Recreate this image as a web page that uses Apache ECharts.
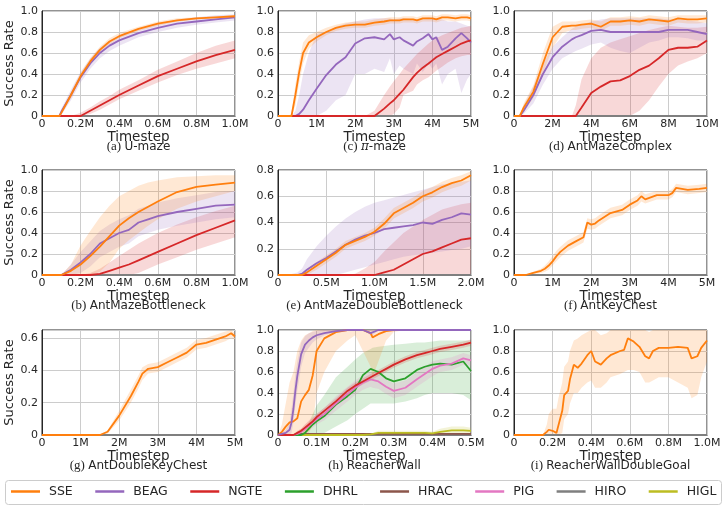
<!DOCTYPE html>
<html>
<head>
<meta charset="utf-8">
<script src="https://cdn.jsdelivr.net/npm/echarts@6/dist/echarts.min.js"></script>
<style>
html, body { margin: 0; padding: 0; background: #fff; }
#chart { width: 727px; height: 509px; }
</style>
</head>
<body>
<div id="chart"></div>
<script>
// methods & colours (legend order)
var methods = ['SSE', 'BEAG', 'NGTE', 'DHRL', 'HRAC', 'PIG', 'HIRO', 'HIGL'];
var methodColors = ['#ff7f0e', '#9467bd', '#d62728', '#2ca02c', '#8c564b', '#e377c2', '#7f7f7f', '#bcbd22'];

// tick labels
var yTicks10 = ['0', '0.2', '0.4', '0.6', '0.8', '1.0'];
var yTicks08 = ['0', '0.2', '0.4', '0.6', '0.8'];
var yTicks06 = ['0', '0.2', '0.4', '0.6'];
var ticks1M = ['0', '0.2M', '0.4M', '0.6M', '0.8M', '1.0M'];
var ticks5M = ['0', '1M', '2M', '3M', '4M', '5M'];
var ticks10M = ['0', '2M', '4M', '6M', '8M', '10M'];
var ticks2M = ['0', '0.5M', '1.0M', '1.5M', '2.0M'];
var ticks05M = ['0', '0.1M', '0.2M', '0.3M', '0.4M', '0.5M'];
var baselineY = [0, 0];

// (a) U-maze, timestep in M
var umazeX = [0, 0.05, 0.09, 0.1, 0.15, 0.2, 0.25, 0.3, 0.35, 0.4, 0.5, 0.6, 0.7, 0.8, 0.9, 1.0];
var umazeSSE = [0, 0, 0, 0.03, 0.2, 0.38, 0.52, 0.63, 0.71, 0.76, 0.83, 0.88, 0.91, 0.93, 0.94, 0.95];
var umazeSSELo = [0, 0, 0, 0.01, 0.17, 0.35, 0.49, 0.6, 0.68, 0.74, 0.81, 0.86, 0.9, 0.92, 0.93, 0.94];
var umazeSSEHi = [0, 0, 0, 0.05, 0.23, 0.41, 0.55, 0.66, 0.74, 0.79, 0.85, 0.9, 0.93, 0.94, 0.95, 0.96];
var umazeBEAG = [0, 0, 0, 0.04, 0.2, 0.37, 0.5, 0.6, 0.67, 0.72, 0.79, 0.84, 0.88, 0.9, 0.92, 0.94];
var umazeBEAGLo = [0, 0, 0, 0.01, 0.15, 0.32, 0.45, 0.55, 0.62, 0.67, 0.75, 0.8, 0.84, 0.87, 0.89, 0.91];
var umazeBEAGHi = [0, 0, 0, 0.07, 0.25, 0.42, 0.55, 0.65, 0.72, 0.77, 0.83, 0.88, 0.92, 0.94, 0.96, 0.97];
var umazeNGTE = [0, 0, 0, 0, 0, 0, 0.05, 0.1, 0.15, 0.2, 0.29, 0.38, 0.45, 0.52, 0.58, 0.63];
var umazeNGTELo = [0, 0, 0, 0, 0, 0, 0.02, 0.06, 0.11, 0.16, 0.24, 0.32, 0.39, 0.45, 0.5, 0.55];
var umazeNGTEHi = [0, 0, 0, 0, 0, 0.03, 0.08, 0.14, 0.19, 0.25, 0.34, 0.44, 0.52, 0.6, 0.67, 0.72];

// (c) pi-maze
var piX = [0, 0.25, 0.35, 0.45, 0.55, 0.65, 0.8, 1.0, 1.25, 1.5, 1.75, 2.0, 2.25, 2.5, 2.75, 2.9, 3.0, 3.15, 3.25, 3.5, 3.6, 3.75, 3.9, 4.0, 4.1, 4.25, 4.4, 4.6, 4.75, 4.9, 5.0];
var piSSE = [0, 0, 0, 0.2, 0.42, 0.6, 0.7, 0.75, 0.8, 0.84, 0.86, 0.87, 0.87, 0.89, 0.9, 0.91, 0.91, 0.91, 0.92, 0.92, 0.91, 0.93, 0.93, 0.93, 0.92, 0.94, 0.94, 0.93, 0.94, 0.94, 0.93];
var piSSELo = [0, 0, 0, 0.1, 0.32, 0.5, 0.64, 0.71, 0.77, 0.81, 0.83, 0.84, 0.84, 0.86, 0.87, 0.88, 0.88, 0.88, 0.89, 0.89, 0.88, 0.9, 0.9, 0.9, 0.89, 0.91, 0.91, 0.9, 0.91, 0.91, 0.9];
var piSSEHi = [0, 0, 0.02, 0.3, 0.52, 0.7, 0.77, 0.8, 0.84, 0.87, 0.89, 0.9, 0.9, 0.92, 0.93, 0.94, 0.94, 0.94, 0.95, 0.95, 0.94, 0.96, 0.96, 0.96, 0.95, 0.97, 0.97, 0.96, 0.97, 0.97, 0.96];
var piBEAG = [0, 0, 0, 0, 0.02, 0.06, 0.15, 0.26, 0.39, 0.49, 0.56, 0.69, 0.74, 0.75, 0.73, 0.78, 0.73, 0.75, 0.72, 0.67, 0.71, 0.74, 0.78, 0.73, 0.75, 0.63, 0.66, 0.74, 0.79, 0.74, 0.7];
var piBEAGLo = [0, 0, 0, 0, 0, 0, 0, 0, 0.05, 0.15, 0.2, 0.4, 0.4, 0.45, 0.42, 0.55, 0.4, 0.48, 0.45, 0.4, 0.5, 0.42, 0.5, 0.45, 0.5, 0.3, 0.4, 0.45, 0.22, 0.35, 0.4];
var piBEAGHi = [0, 0, 0, 0.05, 0.2, 0.4, 0.6, 0.78, 0.8, 0.85, 0.88, 0.9, 0.92, 0.93, 0.93, 0.93, 0.92, 0.93, 0.93, 0.92, 0.92, 0.93, 0.94, 0.93, 0.93, 0.92, 0.9, 0.9, 0.88, 0.86, 0.85];
var piNGTE = [0, 0, 0, 0, 0, 0, 0, 0, 0, 0, 0, 0, 0, 0, 0.07, 0.12, 0.15, 0.21, 0.25, 0.37, 0.41, 0.46, 0.5, 0.53, 0.56, 0.59, 0.62, 0.66, 0.69, 0.71, 0.72];
var piNGTELo = [0, 0, 0, 0, 0, 0, 0, 0, 0, 0, 0, 0, 0, 0, 0, 0, 0.02, 0.08, 0.2, 0.24, 0.3, 0.34, 0.37, 0.4, 0.43, 0.47, 0.51, 0.55, 0.57, 0.58, 0.58];
var piNGTEHi = [0, 0, 0, 0, 0, 0, 0, 0, 0, 0, 0, 0, 0, 0.05, 0.2, 0.28, 0.33, 0.4, 0.45, 0.55, 0.59, 0.64, 0.69, 0.72, 0.74, 0.77, 0.79, 0.82, 0.84, 0.85, 0.86];

// (d) AntMazeComplex
var cplxX = [0, 0.3, 0.5, 1, 1.5, 2, 2.5, 3, 3.2, 3.5, 4, 4.5, 5, 5.5, 6, 6.5, 7, 7.5, 8, 8.5, 9, 9.5, 10];
var cplxSSE = [0, 0, 0.08, 0.23, 0.5, 0.75, 0.85, 0.86, 0.86, 0.87, 0.88, 0.85, 0.9, 0.9, 0.91, 0.9, 0.92, 0.91, 0.9, 0.93, 0.92, 0.92, 0.93];
var cplxSSELo = [0, 0, 0.04, 0.17, 0.4, 0.65, 0.79, 0.82, 0.82, 0.83, 0.84, 0.81, 0.86, 0.86, 0.87, 0.86, 0.88, 0.87, 0.86, 0.89, 0.88, 0.88, 0.89];
var cplxSSEHi = [0, 0, 0.12, 0.29, 0.6, 0.85, 0.9, 0.9, 0.9, 0.91, 0.92, 0.9, 0.94, 0.94, 0.95, 0.94, 0.96, 0.95, 0.94, 0.96, 0.96, 0.96, 0.96];
var cplxBEAG = [0, 0, 0.05, 0.2, 0.4, 0.56, 0.66, 0.73, 0.75, 0.77, 0.81, 0.82, 0.8, 0.8, 0.8, 0.8, 0.8, 0.8, 0.82, 0.82, 0.82, 0.8, 0.78];
var cplxBEAGLo = [0, 0, 0.02, 0.12, 0.3, 0.45, 0.55, 0.6, 0.62, 0.64, 0.68, 0.7, 0.65, 0.62, 0.6, 0.65, 0.7, 0.72, 0.75, 0.75, 0.74, 0.72, 0.72];
var cplxBEAGHi = [0, 0, 0.1, 0.28, 0.5, 0.66, 0.75, 0.83, 0.85, 0.87, 0.9, 0.92, 0.93, 0.93, 0.93, 0.93, 0.93, 0.93, 0.92, 0.92, 0.91, 0.9, 0.88];
var cplxNGTE = [0, 0, 0, 0, 0, 0, 0, 0, 0, 0.08, 0.22, 0.28, 0.33, 0.34, 0.38, 0.44, 0.48, 0.55, 0.63, 0.65, 0.65, 0.66, 0.72];
var cplxNGTELo = [0, 0, 0, 0, 0, 0, 0, 0, 0, 0, 0, 0, 0, 0, 0, 0.05, 0.15, 0.28, 0.4, 0.48, 0.52, 0.55, 0.6];
var cplxNGTEHi = [0, 0, 0, 0, 0, 0, 0, 0, 0.1, 0.35, 0.55, 0.65, 0.7, 0.73, 0.76, 0.79, 0.82, 0.84, 0.86, 0.85, 0.84, 0.84, 0.85];

// (b) AntMazeBottleneck
var bnX = [0, 0.05, 0.1, 0.15, 0.2, 0.25, 0.3, 0.35, 0.4, 0.45, 0.5, 0.55, 0.6, 0.7, 0.8, 0.9, 1.0];
var bnSSE = [0, 0, 0, 0.04, 0.1, 0.18, 0.27, 0.37, 0.47, 0.54, 0.6, 0.65, 0.7, 0.79, 0.84, 0.86, 0.88];
var bnSSELo = [0, 0, 0, 0, 0, 0, 0.03, 0.12, 0.25, 0.33, 0.4, 0.47, 0.53, 0.63, 0.7, 0.75, 0.8];
var bnSSEHi = [0, 0, 0, 0.1, 0.28, 0.42, 0.55, 0.66, 0.75, 0.8, 0.85, 0.88, 0.9, 0.93, 0.94, 0.95, 0.95];
var bnBEAG = [0, 0, 0, 0.05, 0.12, 0.2, 0.3, 0.35, 0.4, 0.43, 0.5, 0.53, 0.56, 0.6, 0.63, 0.66, 0.67];
var bnBEAGLo = [0, 0, 0, 0, 0.02, 0.08, 0.17, 0.22, 0.27, 0.3, 0.37, 0.4, 0.43, 0.47, 0.5, 0.53, 0.55];
var bnBEAGHi = [0, 0, 0, 0.1, 0.22, 0.32, 0.42, 0.48, 0.53, 0.57, 0.63, 0.66, 0.69, 0.73, 0.76, 0.79, 0.8];
var bnNGTE = [0, 0, 0, 0, 0, 0, 0.01, 0.04, 0.07, 0.1, 0.14, 0.18, 0.22, 0.3, 0.38, 0.45, 0.52];
var bnNGTELo = [0, 0, 0, 0, 0, 0, 0, 0, 0, 0, 0.02, 0.06, 0.1, 0.17, 0.24, 0.3, 0.36];
var bnNGTEHi = [0, 0, 0, 0, 0, 0.02, 0.06, 0.12, 0.18, 0.24, 0.3, 0.35, 0.4, 0.48, 0.55, 0.61, 0.66];

// (e) AntMazeDoubleBottleneck
var dbX = [0, 0.1, 0.2, 0.25, 0.3, 0.4, 0.5, 0.6, 0.7, 0.8, 0.9, 1.0, 1.1, 1.2, 1.3, 1.4, 1.5, 1.6, 1.7, 1.8, 1.9, 2.0];
var dbSSE = [0, 0, 0, 0, 0.02, 0.07, 0.12, 0.17, 0.23, 0.26, 0.29, 0.33, 0.39, 0.47, 0.51, 0.55, 0.6, 0.63, 0.67, 0.7, 0.72, 0.76];
var dbSSELo = [0, 0, 0, 0, 0, 0.04, 0.09, 0.14, 0.2, 0.23, 0.26, 0.3, 0.35, 0.43, 0.47, 0.51, 0.56, 0.59, 0.63, 0.66, 0.68, 0.72];
var dbSSEHi = [0, 0, 0, 0.01, 0.05, 0.1, 0.15, 0.2, 0.26, 0.29, 0.32, 0.36, 0.43, 0.51, 0.55, 0.59, 0.64, 0.67, 0.71, 0.74, 0.76, 0.79];
var dbBEAG = [0, 0, 0, 0.01, 0.04, 0.09, 0.13, 0.18, 0.23, 0.27, 0.3, 0.32, 0.35, 0.36, 0.37, 0.38, 0.4, 0.39, 0.42, 0.44, 0.47, 0.46];
var dbBEAGLo = [0, 0, 0, 0, 0, 0, 0, 0, 0.02, 0.04, 0.06, 0.08, 0.1, 0.12, 0.14, 0.15, 0.16, 0.17, 0.18, 0.19, 0.2, 0.22];
var dbBEAGHi = [0, 0, 0.02, 0.05, 0.12, 0.22, 0.3, 0.37, 0.43, 0.48, 0.52, 0.55, 0.57, 0.59, 0.61, 0.63, 0.65, 0.67, 0.69, 0.7, 0.71, 0.72];
var dbNGTE = [0, 0, 0, 0, 0, 0, 0, 0, 0, 0, 0, 0, 0.02, 0.04, 0.08, 0.12, 0.16, 0.18, 0.21, 0.24, 0.27, 0.28];
var dbNGTEHi = [0, 0, 0, 0, 0, 0, 0, 0, 0, 0.01, 0.05, 0.1, 0.18, 0.25, 0.32, 0.37, 0.42, 0.46, 0.5, 0.52, 0.54, 0.55];

// (f) AntKeyChest
var kcX = [0, 0.3, 0.5, 0.7, 0.8, 0.9, 1.0, 1.1, 1.2, 1.4, 1.6, 1.8, 1.9, 2.0, 2.1, 2.2, 2.5, 2.8, 3.0, 3.2, 3.3, 3.4, 3.7, 4.0, 4.1, 4.2, 4.5, 4.8, 5.0];
var kcSSE = [0, 0, 0.02, 0.04, 0.06, 0.09, 0.13, 0.18, 0.22, 0.28, 0.32, 0.36, 0.5, 0.48, 0.49, 0.52, 0.59, 0.62, 0.67, 0.71, 0.75, 0.72, 0.76, 0.76, 0.78, 0.83, 0.81, 0.82, 0.83];
var kcSSELo = [0, 0, 0.01, 0.02, 0.03, 0.05, 0.09, 0.13, 0.17, 0.23, 0.27, 0.31, 0.44, 0.43, 0.44, 0.47, 0.54, 0.57, 0.62, 0.66, 0.7, 0.68, 0.72, 0.72, 0.74, 0.79, 0.77, 0.78, 0.79];
var kcSSEHi = [0, 0, 0.03, 0.06, 0.09, 0.13, 0.18, 0.23, 0.27, 0.33, 0.37, 0.41, 0.54, 0.53, 0.54, 0.57, 0.64, 0.67, 0.72, 0.76, 0.8, 0.77, 0.8, 0.8, 0.82, 0.87, 0.85, 0.86, 0.87];

// (g) AntDoubleKeyChest
var dkX = [0, 1.5, 1.7, 2.0, 2.3, 2.5, 2.6, 2.75, 3.0, 3.25, 3.5, 3.75, 4.0, 4.25, 4.5, 4.75, 4.9, 5.0];
var dkSSE = [0, 0, 0.02, 0.12, 0.24, 0.33, 0.38, 0.41, 0.42, 0.45, 0.48, 0.51, 0.56, 0.57, 0.59, 0.61, 0.63, 0.61];
var dkSSELo = [0, 0, 0.01, 0.09, 0.2, 0.29, 0.34, 0.38, 0.39, 0.42, 0.45, 0.48, 0.53, 0.54, 0.56, 0.58, 0.6, 0.59];
var dkSSEHi = [0, 0, 0.03, 0.15, 0.28, 0.37, 0.42, 0.44, 0.45, 0.48, 0.51, 0.54, 0.59, 0.6, 0.62, 0.64, 0.65, 0.63];

// (h) ReacherWall
var rwX = [0, 0.01, 0.02, 0.03, 0.035, 0.04, 0.045, 0.05, 0.06, 0.07, 0.08, 0.09, 0.1, 0.12, 0.15, 0.18, 0.2, 0.22, 0.24, 0.245, 0.26, 0.28, 0.3, 0.33, 0.36, 0.38, 0.4, 0.42, 0.45, 0.48, 0.5];
var rwSSE = [0, 0.03, 0.08, 0.12, 0.13, 0.13, 0.13, 0.16, 0.32, 0.38, 0.43, 0.57, 0.8, 0.92, 0.98, 1, 1, 1, 0.97, 0.93, 0.96, 0.99, 1, 1, 1, 1, 1, 1, 1, 1, 1];
var rwSSELo = [0, 0, 0, 0, 0, 0, 0, 0, 0, 0, 0.02, 0.1, 0.4, 0.6, 0.8, 0.9, 0.95, 0.8, 0.65, 0.55, 0.7, 0.9, 0.98, 1, 1, 1, 1, 1, 1, 1, 1];
var rwSSEHi = [0, 0.1, 0.3, 0.5, 0.55, 0.6, 0.7, 0.8, 0.9, 0.95, 0.97, 0.99, 1, 1, 1, 1, 1, 1, 1, 1, 1, 1, 1, 1, 1, 1, 1, 1, 1, 1, 1];
var rwBEAG = [0, 0.01, 0.02, 0.05, 0.12, 0.25, 0.42, 0.56, 0.77, 0.86, 0.9, 0.93, 0.95, 0.97, 0.99, 1, 1, 1, 0.97, 0.97, 1, 1, 1, 1, 1, 1, 1, 1, 1, 1, 1];
var rwBEAGLo = [0, 0, 0, 0, 0.02, 0.12, 0.28, 0.42, 0.65, 0.78, 0.83, 0.88, 0.91, 0.95, 0.98, 1, 1, 1, 0.95, 0.95, 1, 1, 1, 1, 1, 1, 1, 1, 1, 1, 1];
var rwBEAGHi = [0, 0.02, 0.05, 0.12, 0.25, 0.4, 0.58, 0.7, 0.88, 0.94, 0.97, 0.98, 0.99, 1, 1, 1, 1, 1, 1, 1, 1, 1, 1, 1, 1, 1, 1, 1, 1, 1, 1];
var rwNGTE = [0, 0, 0, 0, 0, 0, 0.01, 0.02, 0.04, 0.07, 0.1, 0.13, 0.17, 0.23, 0.32, 0.42, 0.47, 0.51, 0.55, 0.56, 0.59, 0.63, 0.67, 0.72, 0.76, 0.78, 0.8, 0.82, 0.84, 0.86, 0.88];
var rwNGTELo = [0, 0, 0, 0, 0, 0, 0, 0, 0.02, 0.04, 0.07, 0.1, 0.14, 0.2, 0.29, 0.39, 0.44, 0.48, 0.52, 0.53, 0.56, 0.6, 0.64, 0.69, 0.73, 0.75, 0.77, 0.79, 0.81, 0.83, 0.85];
var rwNGTEHi = [0, 0, 0, 0, 0, 0, 0.02, 0.04, 0.06, 0.1, 0.13, 0.16, 0.2, 0.26, 0.35, 0.45, 0.5, 0.54, 0.58, 0.59, 0.62, 0.66, 0.7, 0.75, 0.79, 0.81, 0.83, 0.85, 0.87, 0.89, 0.91];
var rwDHRL = [0, 0, 0, 0, 0, 0, 0, 0, 0, 0.02, 0.06, 0.1, 0.13, 0.18, 0.29, 0.37, 0.43, 0.57, 0.63, 0.62, 0.6, 0.54, 0.51, 0.54, 0.62, 0.65, 0.67, 0.68, 0.67, 0.7, 0.61];
var rwDHRLLo = [0, 0, 0, 0, 0, 0, 0, 0, 0, 0, 0, 0, 0, 0.02, 0.08, 0.14, 0.2, 0.25, 0.3, 0.3, 0.3, 0.3, 0.3, 0.32, 0.35, 0.38, 0.4, 0.4, 0.4, 0.38, 0.33];
var rwDHRLHi = [0, 0, 0, 0, 0, 0, 0, 0, 0.02, 0.06, 0.12, 0.2, 0.28, 0.38, 0.55, 0.65, 0.72, 0.78, 0.82, 0.83, 0.84, 0.85, 0.86, 0.87, 0.88, 0.88, 0.89, 0.9, 0.9, 0.9, 0.9];
var rwPIG = [0, 0, 0, 0, 0, 0, 0, 0.01, 0.03, 0.06, 0.09, 0.12, 0.15, 0.2, 0.3, 0.39, 0.45, 0.5, 0.53, 0.52, 0.51, 0.46, 0.42, 0.45, 0.53, 0.58, 0.63, 0.66, 0.68, 0.73, 0.71];
var rwPIGLo = [0, 0, 0, 0, 0, 0, 0, 0, 0, 0.02, 0.04, 0.07, 0.1, 0.14, 0.23, 0.32, 0.38, 0.43, 0.46, 0.45, 0.44, 0.39, 0.35, 0.38, 0.46, 0.51, 0.56, 0.6, 0.62, 0.67, 0.66];
var rwPIGHi = [0, 0, 0, 0, 0, 0, 0.01, 0.03, 0.06, 0.1, 0.14, 0.17, 0.2, 0.26, 0.37, 0.46, 0.52, 0.57, 0.6, 0.59, 0.58, 0.53, 0.49, 0.52, 0.6, 0.65, 0.7, 0.72, 0.74, 0.78, 0.76];
var rwHIGL = [0, 0, 0, 0, 0, 0, 0, 0, 0, 0, 0, 0, 0, 0, 0, 0, 0, 0, 0.005, 0.01, 0.02, 0.02, 0.02, 0.02, 0.02, 0.02, 0.015, 0.03, 0.045, 0.045, 0.04];
var rwHIGLHi = [0, 0, 0, 0, 0, 0, 0, 0, 0, 0, 0, 0, 0, 0, 0, 0, 0, 0, 0.01, 0.02, 0.04, 0.04, 0.04, 0.04, 0.04, 0.04, 0.03, 0.06, 0.08, 0.08, 0.07];
var rwHRAC = [0, 0, 0, 0, 0, 0, 0, 0.01, 0.01, 0.01, 0.01, 0.01, 0.01, 0.01, 0.01, 0.01, 0.01, 0.01, 0.01, 0.01, 0.01, 0.01, 0.01, 0.01, 0.01, 0.01, 0.01, 0.01, 0.01, 0.01, 0.01];

// (i) ReacherWallDoubleGoal
var rwdX = [0, 0.15, 0.17, 0.18, 0.2, 0.22, 0.23, 0.25, 0.26, 0.28, 0.29, 0.31, 0.33, 0.35, 0.38, 0.4, 0.42, 0.45, 0.48, 0.5, 0.55, 0.57, 0.59, 0.62, 0.65, 0.68, 0.7, 0.72, 0.75, 0.8, 0.85, 0.9, 0.92, 0.95, 0.97, 1.0];
var rwdSSE = [0, 0, 0.03, 0.05, 0.04, 0.02, 0.09, 0.23, 0.38, 0.42, 0.53, 0.67, 0.64, 0.68, 0.76, 0.8, 0.7, 0.67, 0.73, 0.76, 0.8, 0.81, 0.92, 0.89, 0.84, 0.75, 0.73, 0.8, 0.83, 0.83, 0.84, 0.83, 0.73, 0.75, 0.83, 0.9];
var rwdSSELo = [0, 0, 0, 0, 0, 0, 0, 0.02, 0.15, 0.2, 0.3, 0.4, 0.4, 0.45, 0.5, 0.52, 0.45, 0.45, 0.5, 0.55, 0.58, 0.6, 0.62, 0.62, 0.6, 0.5, 0.5, 0.52, 0.55, 0.55, 0.5, 0.45, 0.35, 0.38, 0.55, 0.7];
var rwdSSEHi = [0, 0, 0.1, 0.2, 0.25, 0.25, 0.35, 0.5, 0.65, 0.7, 0.8, 0.9, 0.92, 0.95, 0.98, 1, 1, 0.95, 0.97, 1, 1, 1, 1, 1, 1, 1, 0.98, 1, 1, 1, 1, 1, 1, 1, 1, 1];

// panels in reading order (row by row)
var panels = [
    {tag: '(a)', title: 'U-maze', x: umazeX, xTicks: ticks1M, yTicks: yTicks10, ymax: 1, lines: [
        {m: 'NGTE', y: umazeNGTE, lo: umazeNGTELo, hi: umazeNGTEHi},
        {m: 'BEAG', y: umazeBEAG, lo: umazeBEAGLo, hi: umazeBEAGHi},
        {m: 'SSE', y: umazeSSE, lo: umazeSSELo, hi: umazeSSEHi}]},
    {tag: '(c)', title: 'π', x: piX, xTicks: ticks5M, yTicks: yTicks10, ymax: 1, lines: [
        {m: 'BEAG', y: piBEAG, lo: piBEAGLo, hi: piBEAGHi},
        {m: 'NGTE', y: piNGTE, lo: piNGTELo, hi: piNGTEHi},
        {m: 'SSE', y: piSSE, lo: piSSELo, hi: piSSEHi}]},
    {tag: '(d)', title: 'AntMazeComplex', x: cplxX, xTicks: ticks10M, yTicks: yTicks10, ymax: 1, lines: [
        {m: 'NGTE', y: cplxNGTE, lo: cplxNGTELo, hi: cplxNGTEHi},
        {m: 'BEAG', y: cplxBEAG, lo: cplxBEAGLo, hi: cplxBEAGHi},
        {m: 'SSE', y: cplxSSE, lo: cplxSSELo, hi: cplxSSEHi}]},
    {tag: '(b)', title: 'AntMazeBottleneck', x: bnX, xTicks: ticks1M, yTicks: yTicks10, ymax: 1, lines: [
        {m: 'NGTE', y: bnNGTE, lo: bnNGTELo, hi: bnNGTEHi},
        {m: 'BEAG', y: bnBEAG, lo: bnBEAGLo, hi: bnBEAGHi},
        {m: 'SSE', y: bnSSE, lo: bnSSELo, hi: bnSSEHi}]},
    {tag: '(e)', title: 'AntMazeDoubleBottleneck', x: dbX, xTicks: ticks2M, yTicks: yTicks08, ymax: 0.8, lines: [
        {m: 'NGTE', y: dbNGTE, hi: dbNGTEHi},
        {m: 'BEAG', y: dbBEAG, lo: dbBEAGLo, hi: dbBEAGHi},
        {m: 'SSE', y: dbSSE, lo: dbSSELo, hi: dbSSEHi}]},
    {tag: '(f)', title: 'AntKeyChest', x: kcX, xTicks: ticks5M, yTicks: yTicks10, ymax: 1, lines: [
        {m: 'SSE', y: kcSSE, lo: kcSSELo, hi: kcSSEHi}]},
    {tag: '(g)', title: 'AntDoubleKeyChest', x: dkX, xTicks: ticks5M, yTicks: yTicks06, ymax: 0.65, lines: [
        {m: 'SSE', y: dkSSE, lo: dkSSELo, hi: dkSSEHi}]},
    {tag: '(h)', title: 'ReacherWall', x: rwX, xTicks: ticks05M, yTicks: yTicks10, ymax: 1, lines: [
        {m: 'HRAC', y: rwHRAC},
        {m: 'HIGL', y: rwHIGL, hi: rwHIGLHi},
        {m: 'DHRL', y: rwDHRL, lo: rwDHRLLo, hi: rwDHRLHi},
        {m: 'PIG', y: rwPIG, lo: rwPIGLo, hi: rwPIGHi},
        {m: 'NGTE', y: rwNGTE, lo: rwNGTELo, hi: rwNGTEHi},
        {m: 'SSE', y: rwSSE, lo: rwSSELo, hi: rwSSEHi},
        {m: 'BEAG', y: rwBEAG, lo: rwBEAGLo, hi: rwBEAGHi}]},
    {tag: '(i)', title: 'ReacherWallDoubleGoal', x: rwdX, xTicks: ticks1M, yTicks: yTicks10, ymax: 1, lines: [
        {m: 'SSE', y: rwdSSE, lo: rwdSSELo, hi: rwdSSEHi}]}
];

var colLeft = [42, 278, 514];
var rowTop = [11, 170, 330];
var plotW = 193, plotH = 105;
var font = 'DejaVu Sans';
var ink = '#262626';

function colorOf(m) { return methodColors[methods.indexOf(m)]; }
function fade(hex, a) {
    var n = parseInt(hex.slice(1), 16);
    return 'rgba(' + (n >> 16 & 255) + ',' + (n >> 8 & 255) + ',' + (n & 255) + ',' + a + ')';
}

// shaded std band: one polygon through the axis scales
function bandSeries(k, xs, lo, hi, color) {
    return {
        type: 'custom', xAxisIndex: k, yAxisIndex: k, silent: true, z: 1,
        data: [[xs[0], 0]],
        renderItem: function(params, api) {
            var pts = [], i;
            for (i = 0; i < xs.length; i++) pts.push(api.coord([xs[i], hi[i]]));
            for (i = xs.length - 1; i >= 0; i--) pts.push(api.coord([xs[i], lo ? lo[i] : 0]));
            return {type: 'polygon', shape: {points: pts}, style: {fill: fade(color, 0.18)}};
        }
    };
}

function lineSeries(k, m, xs, ys, z) {
    return {
        name: m, type: 'line', xAxisIndex: k, yAxisIndex: k, z: z,
        showSymbol: false, symbol: 'none', silent: true, animation: false,
        lineStyle: {color: colorOf(m), width: 1.8}, itemStyle: {color: colorOf(m)},
        data: xs.map(function(x, i) { return [x, ys[i]]; })
    };
}

var grids = [], xAxes = [], yAxes = [], series = [], graphics = [];

panels.forEach(function(p, k) {
    var col = k % 3, row = Math.floor(k / 3);
    var left = colLeft[col], top = rowTop[row];
    var xmax = p.x[p.x.length - 1];
    var xint = xmax / (p.xTicks.length - 1);
    grids.push({left: left, top: top, width: plotW, height: plotH, show: true,
        borderColor: ink, borderWidth: 1, backgroundColor: 'transparent', outerBoundsMode: 'none'});
    xAxes.push({
        type: 'value', gridIndex: k, min: 0, max: xmax, interval: xint,
        name: 'Timestep', nameLocation: 'middle', nameGap: 14,
        nameTextStyle: {fontFamily: font, fontSize: 13.5, color: ink},
        axisLine: {show: true, lineStyle: {color: ink, width: 1}},
        axisTick: {show: false},
        axisLabel: {fontFamily: font, fontSize: 11, color: ink, margin: 3,
            formatter: function(v) { return p.xTicks[Math.round(v / xint)]; }},
        splitLine: {show: true, lineStyle: {color: '#cccccc', width: 1}}
    });
    yAxes.push({
        type: 'value', gridIndex: k, min: 0, max: p.ymax, interval: 0.2,
        name: col === 0 ? 'Success Rate' : '', nameLocation: 'middle', nameGap: 20,
        nameTextStyle: {fontFamily: font, fontSize: 13, color: ink},
        axisLine: {show: true, lineStyle: {color: ink, width: 1}},
        axisTick: {show: false},
        axisLabel: {fontFamily: font, fontSize: 11, color: ink, margin: 4,
            formatter: function(v) {
                var idx = Math.round(v / 0.2);
                if (Math.abs(v - idx * 0.2) > 1e-6) return '';
                return p.yTicks[idx] || '';
            }},
        splitLine: {show: true, lineStyle: {color: '#cccccc', width: 1}}
    });

    // methods that stay at zero
    var ends = [0, xmax];
    if (p.tag !== '(h)') series.push(lineSeries(k, 'HRAC', ends, baselineY, 2));
    series.push(lineSeries(k, 'HIRO', ends, baselineY, 2));

    p.lines.forEach(function(l, j) {
        var c = colorOf(l.m);
        if (l.hi) series.push(bandSeries(k, p.x, l.lo, l.hi, c));
        series.push(lineSeries(k, l.m, p.x, l.y, 3 + j));
    });

    var label = p.tag === '(c)'
        ? '{t|(c)} {i|π}{n|-maze}'
        : '{t|' + p.tag + '} {n|' + p.title + '}';
    graphics.push({
        type: 'text', x: left + plotW / 2, y: top + plotH + 31, silent: true,
        style: {text: label, align: 'center', verticalAlign: 'middle', fill: ink,
            rich: {
                t: {fontFamily: 'Liberation Serif', fontSize: 13, fill: ink},
                n: {fontFamily: font, fontSize: 12, fill: ink},
                i: {fontFamily: 'DejaVu Serif', fontStyle: 'italic', fontSize: 12, fill: ink}
            }}
    });
});

// legend frame
graphics.push({type: 'rect', z: -1, silent: true,
    shape: {x: 5.5, y: 480.5, width: 716, height: 24, r: 3},
    style: {fill: '#ffffff', stroke: '#cccccc', lineWidth: 1}});

var myChart = echarts.init(document.getElementById('chart'), null, {renderer: 'canvas'});
myChart.setOption({
    backgroundColor: '#ffffff',
    animation: false,
    grid: grids,
    xAxis: xAxes,
    yAxis: yAxes,
    legend: {
        data: methods, left: 11, top: 485, padding: 0, itemGap: 22.5, selectedMode: false,
        icon: 'rect', itemWidth: 29, itemHeight: 2.5,
        textStyle: {fontFamily: font, fontSize: 12.5, color: ink, padding: [0, 0, 0, 4]}
    },
    graphic: graphics,
    series: series
});
</script>
</body>
</html>
